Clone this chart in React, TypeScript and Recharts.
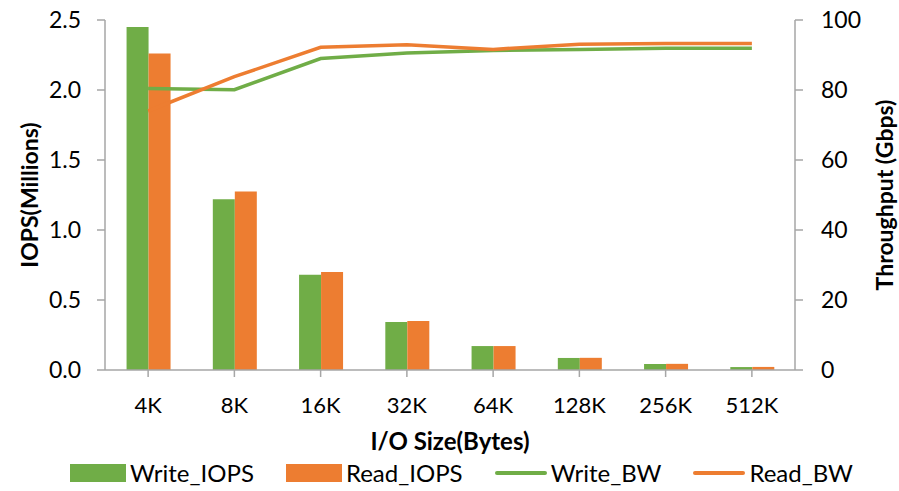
import React from 'react';
import { ComposedChart, Bar, Line, XAxis, YAxis, Legend } from 'recharts';

const categories = ['4K', '8K', '16K', '32K', '64K', '128K', '256K', '512K'];
const writeIops = [2.45, 1.22, 0.68, 0.343, 0.171, 0.086, 0.043, 0.021];
const readIops = [2.26, 1.275, 0.70, 0.35, 0.171, 0.087, 0.044, 0.022];
const writeBw = [80.4, 80.1, 89.0, 90.6, 91.3, 91.6, 91.9, 91.9];
const readBw = [74.0, 83.8, 92.2, 92.9, 91.6, 93.1, 93.3, 93.3];
const leftTicks = [0, 0.5, 1.0, 1.5, 2.0, 2.5];
const rightTicks = [0, 20, 40, 60, 80, 100];

const GREEN = '#70AD47';
const ORANGE = '#ED7D31';
const AXIS = '#A6A6A6';
const FONT = 'Lato, "Open Sans", sans-serif';

const data = categories.map((c, i) => ({
  cat: c,
  Write_IOPS: writeIops[i],
  Read_IOPS: readIops[i],
  Write_BW: writeBw[i],
  Read_BW: readBw[i],
}));

const legendItems = [
  { name: 'Write_IOPS', color: GREEN, type: 'rect' },
  { name: 'Read_IOPS', color: ORANGE, type: 'rect' },
  { name: 'Write_BW', color: GREEN, type: 'line' },
  { name: 'Read_BW', color: ORANGE, type: 'line' },
];

const LegendContent = () => (
  <div style={{ display: 'flex', justifyContent: 'flex-start', alignItems: 'center', fontFamily: FONT, fontSize: 24, color: '#000', paddingLeft: 70, paddingTop: 6, lineHeight: '26px' }}>
    {legendItems.map((it) => (
      <div key={it.name} style={{ display: 'flex', alignItems: 'center', marginRight: 32 }}>
        {it.type === 'rect' ? (
          <div style={{ width: 56, height: 18, background: it.color, marginRight: 4 }} />
        ) : (
          <div style={{ width: 52, height: 4, background: it.color, borderRadius: 2, marginRight: 4 }} />
        )}
        <span>{it.name}</span>
      </div>
    ))}
  </div>
);

export default function App() {
  return (
    <div style={{ position: 'absolute', left: 0, top: 0, width: 899, height: 491, background: '#fff' }}>
      <ComposedChart
        width={899}
        height={491}
        data={data}
        margin={{ top: 20, right: 0, bottom: 0, left: 0 }}
        barCategoryGap="25%"
        barGap={0}
      >
        <XAxis
          dataKey="cat"
          height={84}
          stroke={AXIS}
          strokeWidth={1.5}
          tickSize={7}
          tick={{ fill: '#000', fontSize: 22, fontFamily: FONT }}
          tickMargin={20}
          label={{ value: 'I/O Size(Bytes)', position: 'insideBottom', offset: 4, fill: '#000', fontSize: 24, fontWeight: 'bold', fontFamily: FONT }}
        />
        <YAxis
          yAxisId="left"
          orientation="left"
          width={105}
          domain={[0, 2.5]}
          ticks={leftTicks}
          tickFormatter={(v: number) => v.toFixed(1)}
          stroke={AXIS}
          strokeWidth={1.5}
          tickSize={8}
          tickMargin={4}
          tick={{ fill: '#000', fontSize: 23, fontFamily: FONT, dx: -12 }}
          label={{ value: 'IOPS(Millions)', angle: -90, position: 'insideLeft', offset: 30, style: { textAnchor: 'middle' }, fill: '#000', fontSize: 23, fontWeight: 'bold', fontFamily: FONT }}
        />
        <YAxis
          yAxisId="right"
          orientation="right"
          width={104}
          domain={[0, 100]}
          ticks={rightTicks}
          stroke={AXIS}
          strokeWidth={1.5}
          tickSize={8}
          tickMargin={18}
          tick={{ fill: '#000', fontSize: 23, fontFamily: FONT }}
          label={{ value: 'Throughput (Gbps)', angle: -90, position: 'insideRight', offset: 14, style: { textAnchor: 'middle' }, fill: '#000', fontSize: 23, fontWeight: 'bold', fontFamily: FONT }}
        />
        <Legend verticalAlign="bottom" height={37} content={() => <LegendContent />} />
        <Bar yAxisId="left" dataKey="Write_IOPS" fill={GREEN} isAnimationActive={false} />
        <Bar yAxisId="left" dataKey="Read_IOPS" fill={ORANGE} isAnimationActive={false} />
        <Line yAxisId="right" type="linear" dataKey="Write_BW" stroke={GREEN} strokeWidth={3.5} dot={false} activeDot={false} isAnimationActive={false} />
        <Line yAxisId="right" type="linear" dataKey="Read_BW" stroke={ORANGE} strokeWidth={3.5} dot={false} activeDot={false} isAnimationActive={false} />
      </ComposedChart>
    </div>
  );
}
